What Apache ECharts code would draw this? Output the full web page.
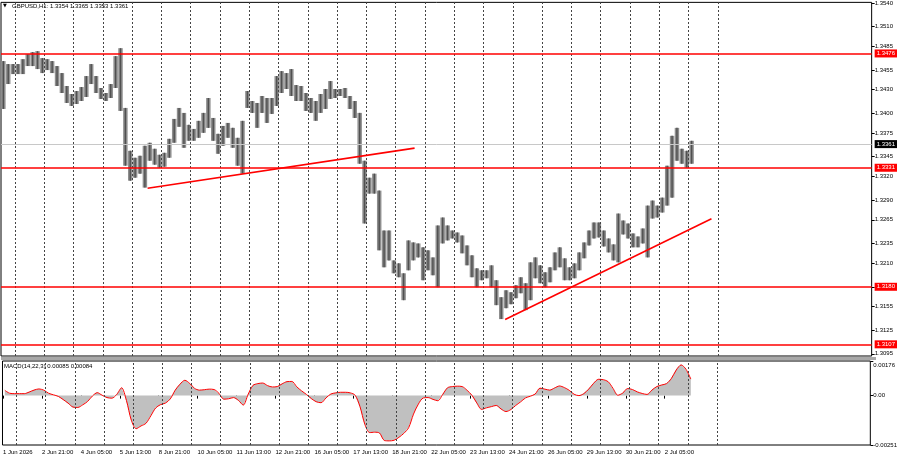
<!DOCTYPE html>
<html><head><meta charset="utf-8">
<script src="https://cdn.jsdelivr.net/npm/echarts@6/dist/echarts.min.js"></script>
<style>html,body{margin:0;padding:0;background:#fff}#c{width:900px;height:460px}</style>
</head><body><div id="c"></div>
<script>
// ---- data ----
const symbolTitle = 'GBPUSD,H1:';
const lastOHLC = ['1.3354', '1.3365', '1.3353', '1.3361'];
const macdTitle = 'MACD(14,22,3)';
const macdLast = ['0.00085', '0.00084'];
const firstHour = 13;          // 1 Jun 13:00, trading hours counted from 1 Jun 00:00
const barHours = 4;            // each drawn bar groups 4 hourly bars
const barHigh = [
1.34663,1.34625,1.34625,1.34625,1.34688,1.34751,1.34777,1.34789,1.34701,1.34688,
1.34663,1.34600,1.34511,1.34347,1.34246,1.34284,1.34334,1.34473,1.34625,1.34473,
1.34322,1.34258,1.34372,1.34726,1.34827,1.34069,1.33525,1.33437,1.33462,1.33589,
1.33627,1.33551,1.33475,1.33500,1.33677,1.33930,1.34069,1.34006,1.33854,1.33803,
1.33905,1.34006,1.34195,1.33942,1.33740,1.33841,1.33879,1.33816,1.33690,1.33905,
1.34284,1.34157,1.34132,1.34220,1.34195,1.34195,1.34473,1.34536,1.34511,1.34562,
1.34359,1.34347,1.34258,1.34195,1.34157,1.34246,1.34309,1.34410,1.34309,1.34309,
1.34322,1.34220,1.34157,1.34006,1.33399,1.33184,1.33235,1.33020,1.32514,1.32514,
1.32135,1.32097,1.31971,1.32388,1.32363,1.32350,1.32300,1.32262,1.32173,1.32578,
1.32679,1.32578,1.32514,1.32489,1.32451,1.32325,1.32199,1.32034,1.32009,1.32009,
1.32072,1.31883,1.31668,1.31756,1.31731,1.31819,1.31921,1.31845,1.32110,1.32173,
1.32072,1.31984,1.32047,1.32236,1.32300,1.32161,1.32047,1.32097,1.32236,1.32363,
1.32514,1.32616,1.32616,1.32514,1.32413,1.32338,1.32729,1.32641,1.32603,1.32477,
1.32439,1.32540,1.32830,1.32894,1.32830,1.32931,1.33336,1.33715,1.33816,1.33551,
1.33525,1.33652];
const barLow = [
1.34056,1.34372,1.34498,1.34498,1.34498,1.34600,1.34600,1.34562,1.34511,1.34549,
1.34511,1.34347,1.34258,1.34132,1.34094,1.34119,1.34157,1.34208,1.34372,1.34258,
1.34183,1.34157,1.34195,1.34322,1.34031,1.33336,1.33146,1.33184,1.33235,1.33058,
1.33399,1.33349,1.33311,1.33323,1.33437,1.33627,1.33829,1.33563,1.33652,1.33652,
1.33690,1.33753,1.33816,1.33652,1.33487,1.33589,1.33690,1.33563,1.33336,1.33235,
1.34069,1.34006,1.33816,1.34006,1.33879,1.33993,1.34094,1.34258,1.34309,1.34220,
1.34157,1.34157,1.34031,1.34006,1.33905,1.34006,1.34056,1.34183,1.34195,1.34220,
1.34195,1.34056,1.33942,1.33361,1.32603,1.32982,1.32982,1.32262,1.32047,1.32135,
1.31971,1.31921,1.31630,1.32009,1.32135,1.32173,1.31883,1.32009,1.31946,1.31794,
1.32350,1.32388,1.32413,1.32363,1.32224,1.32072,1.31921,1.31794,1.31883,1.31908,
1.31794,1.31567,1.31390,1.31529,1.31579,1.31655,1.31718,1.31504,1.31630,1.31908,
1.31845,1.31794,1.31857,1.32009,1.32047,1.31883,1.31883,1.31908,1.32009,1.32161,
1.32325,1.32413,1.32426,1.32312,1.32236,1.32135,1.32110,1.32464,1.32413,1.32300,
1.32300,1.32350,1.32173,1.32666,1.32679,1.32742,1.32830,1.32931,1.33399,1.33361,
1.33311,1.33361];
const macdMain = [
0.00025,0.0001,0.0001,0.0001,0.0001,0.0002,0.0003,0.00034,0.00026,0.0001,
0.00003,-0.00005,-0.00022,-0.0004,-0.0006,-0.0006,-0.00045,-0.00029,0.0,0.00017,
0.0,-0.0001,-0.00013,0.00008,0.00043,-0.0003,-0.0013,-0.0017,-0.00152,-0.0014,
-0.001,-0.0006,-0.00045,-0.00037,-0.00015,0.0003,0.0006,0.0008,0.0006,0.00035,
0.00028,0.0003,0.00033,0.0003,0.0001,-0.0002,-0.00015,-0.0001,-0.00025,-0.0005,
0.0001,0.00055,0.00062,0.00064,0.0005,0.00043,0.00046,0.00062,0.00072,0.00072,
0.00043,0.00022,0.00005,-0.00017,-0.00032,-0.00036,-0.0001,0.0001,0.00015,0.00017,
0.00017,0.00013,0.0,-0.0006,-0.0015,-0.0019,-0.00185,-0.0019,-0.0023,-0.0023,
-0.00226,-0.0021,-0.0019,-0.0016,-0.0009,-0.0004,-0.0001,-0.0001,-0.0002,-0.00026,
0.00009,0.00043,0.00047,0.00048,0.00046,0.00025,0.0,-0.0004,-0.00072,-0.0006,
-0.00055,-0.0005,-0.0007,-0.00082,-0.0007,-0.00048,-0.0003,-0.0001,-0.00002,0.0001,
0.0004,0.00032,0.00028,0.0004,0.0005,0.0004,0.00025,0.00005,0.0,0.00012,
0.00035,0.00065,0.00085,0.0008,0.0007,0.00034,0.0,0.00015,0.00038,0.0003,
0.00018,0.0001,0.00005,0.0003,0.00048,0.00055,0.00062,0.0009,0.00135,0.00158,
0.00132,0.00085];
const macdSignal = [
0.00027,0.00012,0.0001,0.0001,0.0001,0.00018,0.00028,0.00034,0.00028,0.00012,
0.00004,-0.00004,-0.0002,-0.00038,-0.00058,-0.0006,-0.00047,-0.0003,-0.00002,0.00015,
0.00002,-0.0001,-0.00013,0.00006,0.0004,-0.00025,-0.00125,-0.00168,-0.00154,-0.00141,
-0.00103,-0.00063,-0.00046,-0.00038,-0.00017,0.00027,0.00058,0.00078,0.00062,0.00037,
0.00028,0.0003,0.00033,0.00031,0.00012,-0.00018,-0.00016,-0.0001,-0.00024,-0.00048,
0.00006,0.00052,0.00061,0.00064,0.00051,0.00044,0.00046,0.0006,0.00071,0.00072,
0.00045,0.00024,0.00006,-0.00015,-0.00031,-0.00036,-0.00012,0.00008,0.00014,0.00017,
0.00017,0.00014,0.00002,-0.00056,-0.00146,-0.00188,-0.00186,-0.0019,-0.00228,-0.0023,
-0.00227,-0.00212,-0.00192,-0.00163,-0.00094,-0.00043,-0.00012,-0.0001,-0.00019,-0.00026,
0.00006,0.0004,0.00046,0.00048,0.00046,0.00027,0.00002,-0.00037,-0.0007,-0.00062,
-0.00056,-0.0005,-0.00068,-0.00081,-0.00071,-0.0005,-0.00032,-0.00012,-0.00003,0.00008,
0.00038,0.00033,0.00028,0.00039,0.00049,0.00041,0.00027,0.00007,0.0,0.0001,
0.00033,0.00062,0.00083,0.00081,0.00071,0.00037,0.00002,0.00013,0.00036,0.00031,
0.00019,0.00011,0.00006,0.00028,0.00046,0.00054,0.00061,0.00087,0.0013,0.00156,
0.00134,0.00084];
const timeLabelHours = [13,45,77,109,141,173,205,237,269,301,333,365,397,429,461,493,525,557];
const timeLabels = ['1 Jun 2026','2 Jun 21:00','4 Jun 05:00','5 Jun 13:00','8 Jun 21:00','10 Jun 05:00',
  '11 Jun 13:00','12 Jun 21:00','16 Jun 05:00','17 Jun 13:00','18 Jun 21:00','22 Jun 05:00',
  '23 Jun 13:00','24 Jun 21:00','26 Jun 05:00','29 Jun 13:00','30 Jun 21:00','2 Jul 05:00'];
const daySeparatorHours = [24,48,72,96,120,144,168,192,216,240,264,288,312,336,360,384,408,432,456,480,504,528,552,576,600];
const priceTicks = [1.3540,1.3510,1.3485,1.3455,1.3430,1.3400,1.3375,1.3345,1.3320,1.3290,1.3265,1.3235,1.3210,1.3180,1.3155,1.3125,1.3095];
const levelLines = [1.3476, 1.3331, 1.3180, 1.3107];
const currentPrice = 1.3361;
const trendLines = [
  [[132.7, 1.33049], [351.5, 1.33559]],
  [[425.7, 1.31386], [594.8, 1.32662]]
];
const macdTicks = [-0.00251, 0, 0.00176];

// ---- chart ----
const FONT = 'Liberation Sans';
const xMin = 12.58, xMax = 726.05;
const barCenter = i => firstHour + i * barHours + (barHours - 1) / 2;
const bars = barHigh.map((h, i) => [barCenter(i), barLow[i], h]);
const macdData = macdMain.map((v, i) => [barCenter(i), v]);
const sigData = macdSignal.map((v, i) => [barCenter(i), v]);
const sepLines = daySeparatorHours.map(h => ({ xAxis: h }));
const sepStyle = { color: '#444', width: 1, type: [2, 2] };

const chart = echarts.init(document.getElementById('c'));
chart.setOption({
  animation: false,
  backgroundColor: '#ffffff',
  textStyle: { fontFamily: FONT },
  grid: [
    { left: 1, top: 1, width: 875, height: 355, show: true, borderColor: '#000', borderWidth: 1 },
    { left: 1, top: 361, width: 875, height: 84, show: true, borderColor: '#000', borderWidth: 1 }
  ],
  xAxis: [
    { gridIndex: 0, type: 'value', min: xMin, max: xMax, axisLine: { show: false }, axisTick: { show: false },
      axisLabel: { show: false }, splitLine: { show: false } },
    { gridIndex: 1, type: 'value', min: xMin, max: xMax, axisLine: { show: false },
      axisTick: { show: true, customValues: timeLabelHours, length: 3, lineStyle: { color: '#000' } },
      axisLabel: { customValues: timeLabelHours, align: 'left', fontSize: 6, color: '#000', margin: 4, fontFamily: FONT,
        formatter: v => timeLabels[timeLabelHours.indexOf(v)] },
      splitLine: { show: false } }
  ],
  yAxis: [
    { gridIndex: 0, type: 'value', position: 'right', min: 1.30922, max: 1.35408, scale: true,
      axisLine: { show: false },
      axisTick: { show: true, customValues: priceTicks, length: 3, lineStyle: { color: '#000' } },
      axisLabel: { customValues: priceTicks.filter(v => !levelLines.includes(v)).concat(levelLines, [currentPrice]),
        fontSize: 6, color: '#000', margin: 3, fontFamily: FONT,
        formatter: v => {
          const t = v.toFixed(4);
          if (levelLines.includes(v)) return '{lv|' + t + '}';
          if (v === currentPrice) return '{cp|' + t + '}';
          return t;
        },
        rich: {
          lv: { backgroundColor: '#ff0000', color: '#fff', fontSize: 6, padding: [1, 2, 1, 2], fontFamily: FONT },
          cp: { backgroundColor: '#000', color: '#fff', fontSize: 6, padding: [1, 2, 1, 2], fontFamily: FONT }
        } },
      splitLine: { show: false } },
    { gridIndex: 1, type: 'value', position: 'right', min: -0.00251, max: 0.00176,
      axisLine: { show: false },
      axisTick: { show: true, customValues: macdTicks, length: 3, lineStyle: { color: '#000' } },
      axisLabel: { customValues: macdTicks, fontSize: 6, color: '#000', margin: 3, fontFamily: FONT,
        formatter: v => v === 0 ? '0.00' : (v === macdTicks[2] ? '{t|' + v.toFixed(5) + '}' : v.toFixed(5)),
        rich: { t: { fontSize: 6, padding: [8, 0, 0, 0], fontFamily: FONT } } },
      splitLine: { show: false } }
  ],
  series: [
    { type: 'line', xAxisIndex: 0, yAxisIndex: 0, data: [], silent: true,
      markLine: { symbol: 'none', silent: true, precision: 6, label: { show: false }, animation: false,
        data: sepLines.map(d => Object.assign({ lineStyle: sepStyle }, d))
          .concat([{ yAxis: currentPrice, lineStyle: { color: '#c8c8c8', width: 1, type: 'solid' } }]) } },
    { type: 'custom', xAxisIndex: 0, yAxisIndex: 0, data: bars, encode: { x: 0, y: [1, 2] },
      renderItem: (params, api) => {
        const x = api.value(0);
        const top = api.coord([x, api.value(2)]);
        const bot = api.coord([x, api.value(1)]);
        const w = api.size([barHours, 0])[0] - 0.4;
        const h = Math.max(1, bot[1] - top[1]);
        return { type: 'group', children: [
          { type: 'rect', shape: { x: top[0] - w / 2, y: top[1], width: w, height: h }, style: { fill: '#8e8e8e' } },
          { type: 'rect', shape: { x: top[0] - 0.7, y: top[1], width: 1.4, height: h }, style: { fill: '#505050' } }
        ] };
      } },
    { type: 'line', xAxisIndex: 0, yAxisIndex: 0, data: [], silent: true,
      markLine: { symbol: 'none', silent: true, precision: 6, label: { show: false }, animation: false,
        lineStyle: { color: '#ff0000', width: 1.6, type: 'solid' },
        data: levelLines.map(v => ({ yAxis: v }))
          .concat(trendLines.map(t => [{ coord: t[0] }, { coord: t[1] }])) } },
    { type: 'line', xAxisIndex: 1, yAxisIndex: 1, data: macdData, showSymbol: false, silent: true,
      lineStyle: { width: 0, color: '#c0c0c0' }, areaStyle: { color: '#c0c0c0', opacity: 1 },
      markLine: { symbol: 'none', silent: true, precision: 6, label: { show: false }, animation: false,
        data: sepLines.map(d => Object.assign({ lineStyle: sepStyle }, d)) } },
    { type: 'line', xAxisIndex: 1, yAxisIndex: 1, data: sigData, showSymbol: false, silent: true, smooth: 0.3,
      lineStyle: { width: 1, color: '#ff0000' } }
  ],
  graphic: [
    { type: 'rect', shape: { x: 1, y: 357, width: 875, height: 3 }, style: { fill: '#a8a8a8' }, silent: true },
    { type: 'text', left: 3, top: 3, style: { text: '▼', fontSize: 5, fill: '#000', fontFamily: 'DejaVu Sans' } },
    { type: 'text', left: 12, top: 3, style: { text: symbolTitle + ' ' + lastOHLC.join(' '), fontSize: 6, fill: '#000', fontFamily: FONT } },
    { type: 'text', left: 4, top: 363, style: { text: macdTitle + ' ' + macdLast.join(' '), fontSize: 6, fill: '#000', fontFamily: FONT } }
  ]
});
</script></body></html>
